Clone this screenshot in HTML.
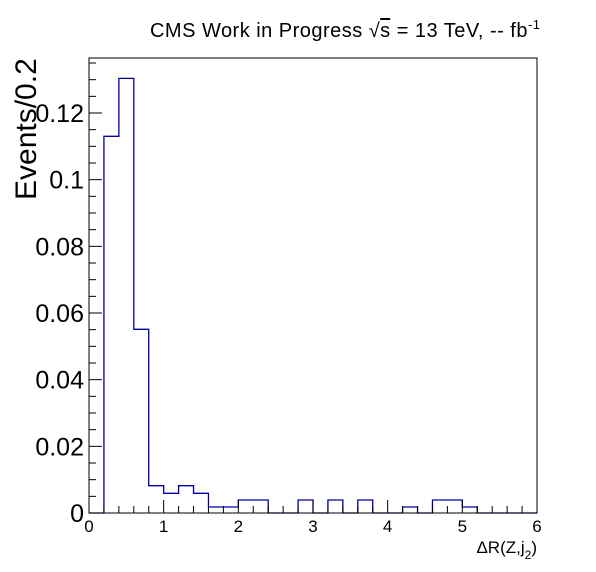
<!DOCTYPE html>
<html><head><meta charset="utf-8"><style>
body{margin:0;background:#fff;}
svg{display:block;font-family:"Liberation Sans",sans-serif;}
</style></head><body>
<svg id="c" width="596" height="572">
<rect x="0" y="0" width="596" height="572" fill="#fff"/>
<text x="540" y="37" text-anchor="end" font-size="20" textLength="390">CMS Work in Progress  √<tspan text-decoration="overline">s</tspan> = 13 TeV, -- fb<tspan dy="-8" font-size="13">-1</tspan></text>
<text transform="translate(36,200) rotate(-90)" font-size="30">Events/0.2</text>
<text x="537" y="553" text-anchor="end" font-size="17">ΔR(Z,j<tspan dy="6" font-size="12">2</tspan><tspan dy="-6">)</tspan></text>
<g id="g"></g>
</svg>
<script>
const binEdgesStart = 0, binWidth = 0.2;
const counts = [0,0.113,0.1304,0.0551,0.0082,0.0059,0.0082,0.0059,0.0018,0.0018,0.0039,0.0039,0,0,0.0039,0,0.0039,0,0.0039,0,0,0.0018,0,0.0039,0.0039,0.0018,0,0,0,0];
const yTicks = [0,0.02,0.04,0.06,0.08,0.1,0.12];
const yTickLabels = ["0","0.02","0.04","0.06","0.08","0.1","0.12"];
const xTicks = [0,1,2,3,4,5,6];
const xTickLabels = ["0","1","2","3","4","5","6"];
const L=89,R=537,T=58,B=513, xMin=0,xMax=6, yMax=(B-T)/3333.3;
const X=v=>L+(v-xMin)/(xMax-xMin)*(R-L);
const Y=v=>B-v/yMax*(B-T);
const ns="http://www.w3.org/2000/svg", g=document.getElementById('g');
function mk(t,a){const e=document.createElementNS(ns,t);for(const k in a)e.setAttribute(k,a[k]);g.appendChild(e);return e;}
let d=`M${X(binEdgesStart)},${Y(0)}`;
counts.forEach((c,i)=>{const x0=X(binEdgesStart+i*binWidth),x1=X(binEdgesStart+(i+1)*binWidth);d+=` L${x0},${Y(c)} L${x1},${Y(c)}`;});
d+=` L${X(binEdgesStart+counts.length*binWidth)},${Y(0)}`;
const h=mk('path',{d:d,fill:'none',stroke:'#0000a8','stroke-width':1.3});


const f=mk('rect',{x:L,y:T,width:R-L,height:B-T,fill:'none',stroke:'#000','stroke-width':1});


for(let v=0;v<=yMax+1e-9;v+=0.005){const maj=Math.abs(v/0.02-Math.round(v/0.02))<1e-6;mk('line',{x1:L,x2:L+(maj?13:7),y1:Y(v),y2:Y(v),stroke:'#000'});}
yTicks.forEach((v,i)=>{const t=mk('text',{x:L-5,y:Y(v)+9,'text-anchor':'end','font-size':25});t.textContent=yTickLabels[i];

});
for(let k=0;k<=30;k++){const v=k*0.2,maj=k%5===0;mk('line',{x1:X(v),x2:X(v),y1:B,y2:B-(maj?13:7),stroke:'#000'});}
xTicks.forEach((v,i)=>{const t=mk('text',{x:X(v),y:B+19,'text-anchor':'middle','font-size':17});t.textContent=xTickLabels[i];

});
</script>
</body></html>
